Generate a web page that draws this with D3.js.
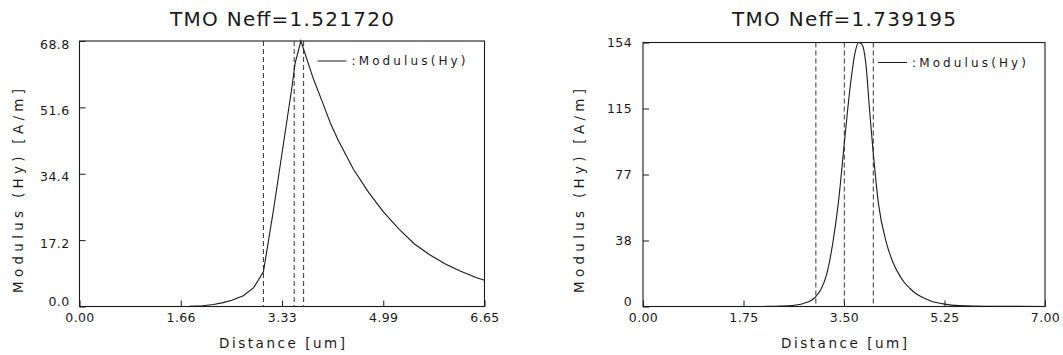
<!DOCTYPE html>
<html>
<head>
<meta charset="utf-8">
<script src="https://d3js.org/d3.v7.min.js"></script>
<style>
  html, body { margin: 0; padding: 0; background: #fff; }
  svg { display: block; }
  text { font-family: "DejaVu Sans", sans-serif; fill: #1a1a1a; }
</style>
</head>
<body>
<svg id="chart" width="1063" height="355"></svg>
<script>
// ---- Left panel data ----
const leftTitle = "TMO Neff=1.521720";
const leftX = [0, 1.8, 2.02, 2.2, 2.36, 2.5, 2.69, 2.86, 3.02, 3.185, 3.35, 3.49, 3.54, 3.635, 3.84, 4.0, 4.12, 4.25, 4.5, 4.75, 4.99, 5.25, 5.5, 5.75, 6.0, 6.25, 6.5, 6.65];
const leftY = [0, 0.05, 0.2, 0.5, 1.0, 1.6, 2.8, 4.9, 9.0, 25.0, 42.3, 57, 63, 68.8, 59, 52.5, 47.5, 43, 35.5, 29.5, 24.5, 20, 16.2, 13.4, 11.1, 9.2, 7.6, 6.8];
const leftDashed = [3.02, 3.525, 3.68];
const leftXTicks = [0, 1.6625, 3.325, 4.9875, 6.65];
const leftXTickLabels = ["0.00", "1.66", "3.33", "4.99", "6.65"];
const leftYTicks = [0, 17.2, 34.4, 51.6, 68.8];
const leftYTickLabels = ["0.0", "17.2", "34.4", "51.6", "68.8"];

// ---- Right panel data ----
const rightTitle = "TMO Neff=1.739195";
const rightX = [0, 2.0, 2.2, 2.4, 2.6, 2.8, 3.01, 3.1, 3.2, 3.3, 3.4, 3.505, 3.6, 3.69, 3.75, 3.81, 3.88, 3.95, 4.01, 4.1, 4.24, 4.35, 4.47, 4.55, 4.65, 4.75, 4.9, 5.0, 5.25, 5.5, 6.0, 7.0];
const rightY = [0, 0.02, 0.05, 0.2, 0.6, 1.8, 5.8, 10, 19, 36, 60, 95, 126, 147.6, 154, 153, 141.8, 112.6, 89.3, 60, 37, 26, 18, 14, 10.5, 7.6, 4.8, 3.4, 1.4, 0.5, 0.1, 0];
const rightDashed = [3.01, 3.505, 4.01];
const rightXTicks = [0, 1.75, 3.5, 5.25, 7.0];
const rightXTickLabels = ["0.00", "1.75", "3.50", "5.25", "7.00"];
const rightYTicks = [0, 38.5, 77, 115.5, 154];
const rightYTickLabels = ["0", "38", "77", "115", "154"];

const xLabel = "Distance [um]";
const yLabel = "Modulus (Hy) [A/m]";
const legendLabel = ":Modulus(Hy)";

const panels = [
  { title: leftTitle, xs: leftX, ys: leftY, dashed: leftDashed,
    xTicks: leftXTicks, xTickLabels: leftXTickLabels, yTicks: leftYTicks, yTickLabels: leftYTickLabels,
    xMax: 6.65, yMax: 68.8, curve: d3.curveLinear,
    box: { x0: 79.5, x1: 484.5, y0: 41, y1: 306.5 }, yLabelX: 23, labelShift: 3, yTickPad: 10 },
  { title: rightTitle, xs: rightX, ys: rightY, dashed: rightDashed,
    xTicks: rightXTicks, xTickLabels: rightXTickLabels, yTicks: rightYTicks, yTickLabels: rightYTickLabels,
    xMax: 7.0, yMax: 154, curve: d3.curveMonotoneX,
    box: { x0: 643, x1: 1045, y0: 42.5, y1: 306.5 }, yLabelX: 584, labelShift: 0, yTickPad: 11 }
];

const svg = d3.select("#chart");
const ink = "#1a1a1a";

panels.forEach(p => {
  const b = p.box;
  const x = d3.scaleLinear().domain([0, p.xMax]).range([b.x0, b.x1]);
  const y = d3.scaleLinear().domain([0, p.yMax]).range([b.y1, b.y0]);
  const g = svg.append("g");

  // Title
  const cx = (b.x0 + b.x1) / 2;
  g.append("text").attr("x", cx).attr("y", 26).attr("text-anchor", "middle")
    .attr("font-size", 20).attr("textLength", 224).attr("lengthAdjust", "spacing")
    .text(p.title);

  // X axis
  const xAxis = d3.axisBottom(x).tickValues(p.xTicks)
    .tickFormat((d, i) => p.xTickLabels[i]).tickSizeInner(-6).tickSizeOuter(0).tickPadding(7);
  const gx = g.append("g").attr("transform", `translate(0,${b.y1})`).call(xAxis);
  gx.select(".domain").remove();
  gx.selectAll(".tick line").attr("stroke", ink);
  gx.selectAll(".tick text").attr("font-size", 12.5).attr("letter-spacing", 0.4)
    .attr("font-family", "DejaVu Sans").attr("fill", ink);

  // Y axis
  const yAxis = d3.axisLeft(y).tickValues(p.yTicks)
    .tickFormat((d, i) => p.yTickLabels[i]).tickSizeInner(-6).tickSizeOuter(0).tickPadding(p.yTickPad);
  const gy = g.append("g").attr("transform", `translate(${b.x0},0)`).call(yAxis);
  gy.select(".domain").remove();
  gy.selectAll(".tick line").attr("stroke", ink);
  gy.selectAll(".tick text").attr("font-size", 12.5).attr("letter-spacing", 0.4)
    .attr("font-family", "DejaVu Sans").attr("fill", ink)
    .attr("transform", (d) => `translate(0,${d === 0 ? -5 : p.labelShift})`);

  // Frame
  g.append("rect").attr("x", b.x0).attr("y", b.y0)
    .attr("width", b.x1 - b.x0).attr("height", b.y1 - b.y0)
    .attr("fill", "none").attr("stroke", ink).attr("stroke-width", 1.1);

  // Dashed vertical lines
  g.selectAll("line.dash").data(p.dashed).enter().append("line")
    .attr("class", "dash")
    .attr("x1", d => x(d)).attr("x2", d => x(d))
    .attr("y1", b.y0).attr("y2", b.y1)
    .attr("stroke", "#333").attr("stroke-width", 1).attr("stroke-dasharray", "5,3");

  // Curve
  const pts = p.xs.map((v, i) => [v, p.ys[i]]);
  const line = d3.line().x(d => x(d[0])).y(d => y(d[1])).curve(p.curve);
  g.append("path").datum(pts).attr("d", line)
    .attr("fill", "none").attr("stroke", ink).attr("stroke-width", 1.1);

  // Legend
  const ly = b.y0 + 20;
  g.append("line").attr("x1", b.x1 - 167).attr("x2", b.x1 - 138)
    .attr("y1", ly).attr("y2", ly).attr("stroke", ink).attr("stroke-width", 1);
  g.append("text").attr("x", b.x1 - 133).attr("y", ly + 4)
    .attr("font-size", 12).attr("textLength", 114).attr("lengthAdjust", "spacing")
    .text(legendLabel);

  // X label
  g.append("text").attr("x", cx).attr("y", 348).attr("text-anchor", "middle")
    .attr("font-size", 13.5).attr("textLength", 126).attr("lengthAdjust", "spacing")
    .text(xLabel);

  // Y label
  g.append("text").attr("transform", `translate(${p.yLabelX},191) rotate(-90)`)
    .attr("text-anchor", "middle")
    .attr("font-size", 13.5).attr("textLength", 204).attr("lengthAdjust", "spacing")
    .text(yLabel);
});
</script>
</body>
</html>
